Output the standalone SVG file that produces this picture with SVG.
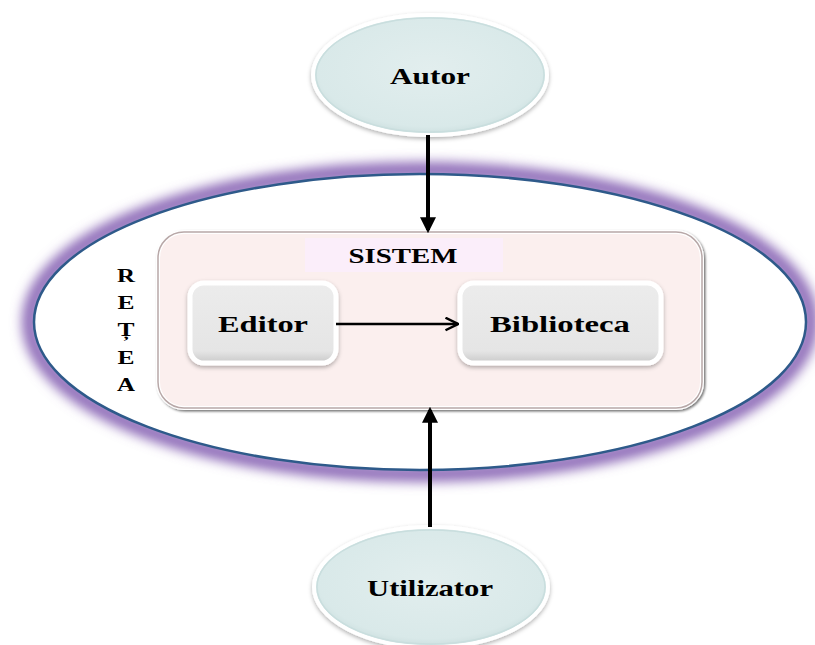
<svg xmlns="http://www.w3.org/2000/svg" width="815" height="645" viewBox="0 0 815 645">
<style>
text{font-family:"Liberation Serif","Times New Roman",serif;font-weight:bold;fill:#000;text-anchor:middle;dominant-baseline:central}
.lbl{font-size:23px}
.ret{font-size:18px}
.actor{fill:url(#actorGrad);stroke:#ffffff;stroke-width:4}
.actorOut{fill:none;stroke:#c9dede;stroke-width:1.5}
.box{fill:url(#boxGrad);stroke:#ffffff;stroke-width:5}
.conn{stroke:#000;stroke-width:4;fill:none}
</style>
<defs>
<radialGradient id="actorGrad" cx="0.5" cy="0.45" r="0.6">
<stop offset="0" stop-color="#e2eeee"/>
<stop offset="0.8" stop-color="#d9e9e9"/>
<stop offset="1" stop-color="#c3d8d8"/>
</radialGradient>
<linearGradient id="boxGrad" x1="0" y1="0" x2="0" y2="1">
<stop offset="0" stop-color="#ececec"/>
<stop offset="0.85" stop-color="#e5e5e5"/>
<stop offset="1" stop-color="#c9c9c9"/>
</linearGradient>
<filter id="glow" x="-10%" y="-20%" width="120%" height="140%">
<feGaussianBlur stdDeviation="6"/>
</filter>
<filter id="shadow" x="-10%" y="-10%" width="120%" height="130%">
<feDropShadow dx="0" dy="2" stdDeviation="2" flood-color="#000" flood-opacity="0.3"/>
</filter>
<filter id="shadowR" x="-10%" y="-10%" width="120%" height="130%">
<feDropShadow dx="1.5" dy="1.5" stdDeviation="1.2" flood-color="#000" flood-opacity="0.55"/>
</filter>
<marker id="arrowBig" viewBox="0 0 10 10" refX="8" refY="5" markerWidth="4" markerHeight="4" orient="auto" markerUnits="strokeWidth">
<path d="M0,0 L10,5 L0,10 z" fill="#000"/>
</marker>
<marker id="arrowOpen" viewBox="0 0 12 12" refX="11" refY="6" markerWidth="6" markerHeight="6" orient="auto" markerUnits="strokeWidth">
<path d="M1,1 L11,6 L1,11" fill="none" stroke="#000" stroke-width="2"/>
</marker>
</defs>

<g id="retea">
<ellipse cx="420" cy="322" rx="390" ry="152" fill="none" stroke="#8e6cb8" stroke-width="16" filter="url(#glow)"/>
<ellipse cx="420" cy="322" rx="386" ry="148" fill="#ffffff" stroke="#2e5a8a" stroke-width="2.5"/>
<text x="126" y="276" class="ret" textLength="18" lengthAdjust="spacingAndGlyphs">R</text>
<text x="126" y="303" class="ret" textLength="17" lengthAdjust="spacingAndGlyphs">E</text>
<text x="126" y="330" class="ret" textLength="17" lengthAdjust="spacingAndGlyphs">Ț</text>
<text x="126" y="358" class="ret" textLength="17" lengthAdjust="spacingAndGlyphs">E</text>
<text x="126" y="385" class="ret" textLength="18" lengthAdjust="spacingAndGlyphs">A</text>
</g>

<g id="sistem">
<rect x="158" y="232" width="544" height="176" rx="26" fill="#fbefee" stroke="#ffffff" stroke-width="4" filter="url(#shadowR)"/>
<rect x="158" y="232" width="544" height="176" rx="26" fill="none" stroke="#b8a8a8" stroke-width="1.5"/>
<rect x="305" y="238" width="198" height="34" fill="#fbeefa"/>
<text x="403" y="256" font-size="20" textLength="109" lengthAdjust="spacingAndGlyphs">SISTEM</text>
</g>

<g id="editor">
<rect x="190" y="283" width="146" height="80" rx="14" class="box" filter="url(#shadow)"/>
<text x="263" y="324" class="lbl" textLength="90" lengthAdjust="spacingAndGlyphs">Editor</text>
</g>

<g id="biblioteca">
<rect x="460" y="283" width="201" height="80" rx="14" class="box" filter="url(#shadow)"/>
<text x="560" y="324" class="lbl" textLength="140" lengthAdjust="spacingAndGlyphs">Biblioteca</text>
</g>

<g id="autor">
<ellipse cx="430" cy="75" rx="117" ry="60" class="actor" filter="url(#shadow)"/>
<ellipse cx="430" cy="75" rx="114" ry="57" class="actorOut"/>
<text x="430" y="76" class="lbl" textLength="80" lengthAdjust="spacingAndGlyphs">Autor</text>
</g>

<g id="utilizator">
<ellipse cx="431" cy="587" rx="117" ry="60" class="actor" filter="url(#shadow)"/>
<ellipse cx="431" cy="587" rx="114" ry="57" class="actorOut"/>
<text x="430" y="588" class="lbl" textLength="126" lengthAdjust="spacingAndGlyphs">Utilizator</text>
</g>

<g id="connectors">
<line x1="428" y1="135" x2="428" y2="230" class="conn" marker-end="url(#arrowBig)"/>
<line x1="430" y1="527" x2="430" y2="410" class="conn" marker-end="url(#arrowBig)"/>
<line x1="336" y1="324" x2="458" y2="324" stroke="#000" stroke-width="2.5" marker-end="url(#arrowOpen)"/>
</g>
</svg>
